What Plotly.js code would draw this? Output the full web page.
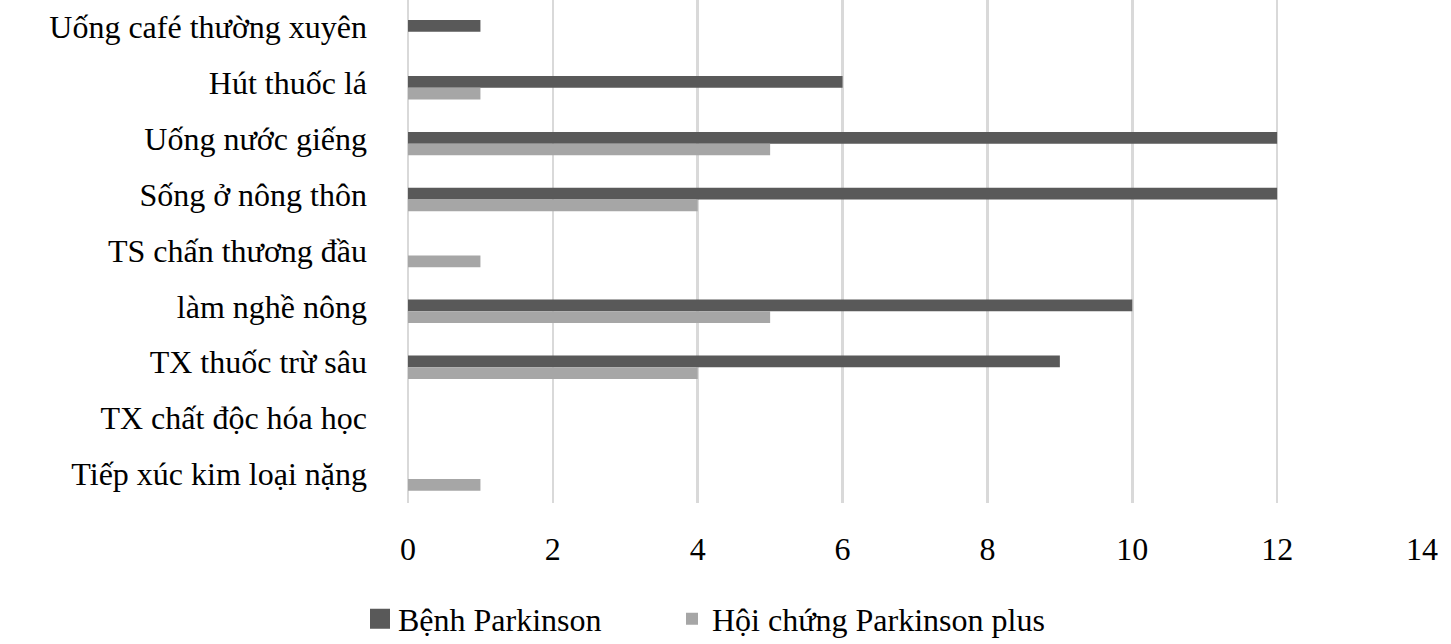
<!DOCTYPE html>
<html>
<head>
<meta charset="utf-8">
<script src="https://cdn.plot.ly/plotly-3.0.1.min.js"></script>
<style>html,body{margin:0;padding:0;background:#fff;}#chart{width:1451px;height:644px;}</style>
</head>
<body>
<div id="chart"></div>
<script>
const categories = [
  "Uống café thường xuyên",
  "Hút thuốc lá",
  "Uống nước giếng",
  "Sống ở nông thôn",
  "TS chấn thương đầu",
  "làm nghề nông",
  "TX thuốc trừ sâu",
  "TX chất độc hóa học",
  "Tiếp xúc kim loại nặng"
];
const parkinsonValues = [1, 6, 12, 12, 0, 10, 9, 0, 0];
const plusValues = [0, 1, 5, 4, 1, 5, 4, 0, 1];
const seriesNames = ["Bệnh Parkinson", "Hội chứng Parkinson plus"];
const xTicks = [0, 2, 4, 6, 8, 10, 12, 14];

const FONT = "Liberation Serif, Times New Roman, serif";

const data = [
  {type: "bar", orientation: "h", name: seriesNames[0], y: categories, x: parkinsonValues,
   marker: {color: "#595959"}, legend: "legend"},
  {type: "bar", orientation: "h", name: seriesNames[1], y: categories, x: plusValues,
   marker: {color: "#a6a6a6"}, legend: "legend2"}
];

const legendFont = {family: FONT, size: 32, color: "#000"};

const layout = {
  width: 1451, height: 644,
  margin: {l: 408, r: 29, t: 0, b: 141},
  paper_bgcolor: "#fff", plot_bgcolor: "#fff",
  font: {family: FONT, size: 32, color: "#000"},
  barmode: "group", bargap: 0.58, bargroupgap: 0,
  showlegend: true,
  legend: {orientation: "h", xref: "container", yref: "container", x: 358 / 1451, xanchor: "left",
           y: 25 / 644, yanchor: "middle", font: legendFont, bgcolor: "rgba(0,0,0,0)"},
  legend2: {orientation: "h", xref: "container", yref: "container", x: 672 / 1451, xanchor: "left",
           y: 25 / 644, yanchor: "middle", font: legendFont, bgcolor: "rgba(0,0,0,0)"},
  xaxis: {range: [0, 14], tickvals: xTicks, ticktext: xTicks.map(String),
          showgrid: true, gridcolor: "#d9d9d9", gridwidth: 2.5,
          zeroline: true, zerolinecolor: "#d9d9d9", zerolinewidth: 2.5,
          showline: false, ticks: "", ticklabelstandoff: 24, fixedrange: true},
  yaxis: {type: "category", range: [8.43, -0.57], showgrid: false, zeroline: false,
          showline: false, ticks: "", ticklabelstandoff: 40, ticklabelshift: 5, fixedrange: true}
};

// Style the legend swatches (both legends) as 20px squares sitting 8px left of their text.
// Idempotent: always recomputed from the current geometry.
function styleLegendSymbols() {
  document.querySelectorAll("#chart g.traces").forEach(function (tr) {
    const txt = tr.querySelector(".legendtext");
    if (!txt) return;
    tr.querySelectorAll(".legendpoints path").forEach(function (path) {
      const bb = path.getBBox();
      const rect = path.getBoundingClientRect();
      if (!bb.width || !rect.width) return;
      const scale = rect.width / bb.width;
      const textLeft = txt.getBoundingClientRect().left;
      const screenCx = textLeft - 8 - 10;
      const curScreenCx = rect.left + rect.width / 2;
      const cx = bb.x + bb.width / 2 + (screenCx - curScreenCx) / scale;
      const cy = bb.y + bb.height / 2;
      const h = 10 / scale;
      path.setAttribute("d", "M" + (cx + h) + "," + (cy + h) + "H" + (cx - h) + "V" + (cy - h) + "H" + (cx + h) + "Z");
      path.style.strokeWidth = "0px";
    });
  });
}

const gdEl = document.getElementById("chart");
const observer = new MutationObserver(function () { styleLegendSymbols(); });
observer.observe(gdEl, {childList: true, subtree: true});

Plotly.newPlot(gdEl, data, layout, {displayModeBar: false, staticPlot: true}).then(function (gd) {
  styleLegendSymbols();
  gd.on("plotly_afterplot", styleLegendSymbols);
  [0, 50, 200, 500].forEach(function (t) { setTimeout(styleLegendSymbols, t); });
});
</script>
</body>
</html>
